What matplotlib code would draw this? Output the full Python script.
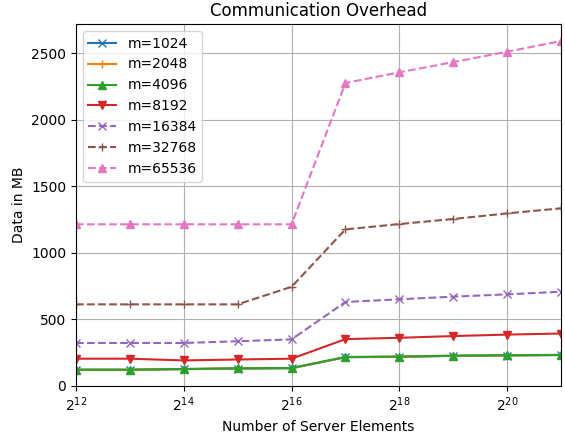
import matplotlib
matplotlib.use('Agg')
import matplotlib.pyplot as plt

# Número de elementos no servidor (2^12 .. 2^21)
n_server = [2 ** k for k in range(12, 22)]

m_1024 = [121, 121, 126, 131, 133, 216, 219, 226, 229, 232]
m_2048 = [122, 122, 127, 132, 134, 217, 220, 227, 230, 233]
m_4096 = [123, 123, 128, 133, 135, 218, 221, 228, 231, 234]
m_8192 = [205, 205, 192, 199, 205, 352, 362, 375, 386, 394]
m_16384 = [323, 323, 323, 336, 350, 631, 651, 671, 688, 708]
m_32768 = [613, 613, 613, 613, 745, 1176, 1216, 1254, 1296, 1334]
m_65536 = [1214, 1214, 1214, 1214, 1214, 2275, 2355, 2432, 2510, 2590]

series = [
    ('m=1024', m_1024, 'x', '-', '#1f77b4'),
    ('m=2048', m_2048, '+', '-', '#ff7f0e'),
    ('m=4096', m_4096, '^', '-', '#2ca02c'),
    ('m=8192', m_8192, 'v', '-', '#d62728'),
    ('m=16384', m_16384, 'x', '--', '#9467bd'),
    ('m=32768', m_32768, '+', '--', '#8c564b'),
    ('m=65536', m_65536, '^', '--', '#e377c2'),
]

fig = plt.figure(figsize=(5.65, 4.34), dpi=100)
ax = fig.add_axes([0.1345, 0.1106, 0.8585, 0.8341])

for label, vals, marker, ls, color in series:
    ax.plot(n_server, vals, marker=marker, linestyle=ls, color=color, label=label)

ax.set_xscale('log', base=2)
ax.set_xlim(2 ** 12, 2 ** 21)
ax.set_xticks([2 ** k for k in range(12, 21, 2)])
ax.set_xticklabels([r'$2^{%d}$' % k for k in range(12, 21, 2)])
ax.minorticks_off()
ax.set_ylim(0, 2718)

ax.set_title('Communication Overhead')
ax.set_xlabel('Number of Server Elements')
ax.set_ylabel('Data in MB')
ax.legend(loc='upper left')
ax.grid(True)

fig.savefig('out.png', dpi=100)
